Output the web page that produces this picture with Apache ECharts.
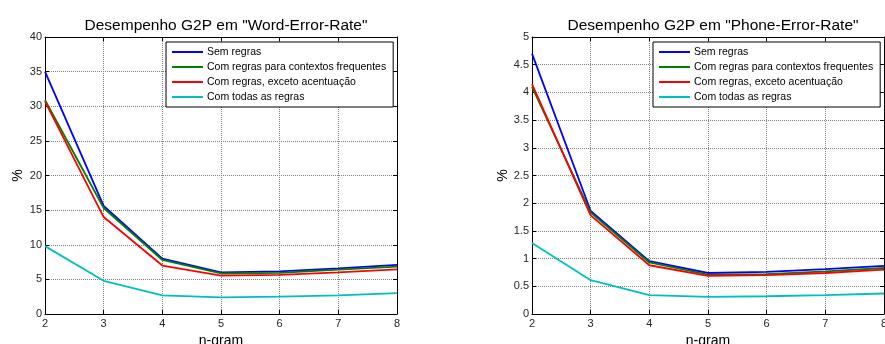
<!DOCTYPE html>
<html>
<head>
<meta charset="utf-8">
<script src="https://cdn.jsdelivr.net/npm/echarts@6/dist/echarts.min.js"></script>
<style>html,body{margin:0;padding:0;background:#fff;}#c{width:885px;height:344px;}</style>
</head>
<body>
<div id="c"></div>
<script>
var nGrams = [2, 3, 4, 5, 6, 7, 8];
var seriesNames = ['Sem regras', 'Com regras para contextos frequentes', 'Com regras, exceto acentuação', 'Com todas as regras'];
var werSemRegras = [35.0, 15.6, 8.0, 6.0, 6.15, 6.6, 7.1];
var werContextos = [30.9, 15.3, 7.8, 5.85, 5.95, 6.4, 6.85];
var werExceto    = [30.7, 14.0, 7.0, 5.55, 5.65, 6.0, 6.45];
var werTodas     = [9.8, 4.8, 2.7, 2.4, 2.5, 2.7, 3.0];
var perSemRegras = [4.7, 1.86, 0.955, 0.74, 0.76, 0.81, 0.87];
var perContextos = [4.1, 1.83, 0.93, 0.71, 0.72, 0.77, 0.83];
var perExceto    = [4.15, 1.78, 0.88, 0.69, 0.70, 0.74, 0.80];
var perTodas     = [1.28, 0.61, 0.34, 0.31, 0.32, 0.34, 0.37];
var titles = ['Desempenho G2P em "Word-Error-Rate"', 'Desempenho G2P em "Phone-Error-Rate"'];

var colors = ['#0000ff', '#008000', '#ff0000', '#00bfbf'];
var FONT = 'Liberation Sans, Arial, sans-serif';

function pairs(v) { return nGrams.map(function (x, i) { return [x, v[i]]; }); }

var chart = echarts.init(document.getElementById('c'), null, {renderer: 'canvas'});

var grids = [
  {left: 45, right: 488, top: 37, bottom: 30, outerBoundsMode: 'none', containLabel: false},
  {left: 532, right: 1, top: 37, bottom: 30, outerBoundsMode: 'none', containLabel: false}
];
var yMax = [40, 5], yInt = [5, 0.5];

var xAxes = [], yAxes = [];
for (var g = 0; g < 2; g++) {
  xAxes.push({
    type: 'value', gridIndex: g, min: 2, max: 8, interval: 1, position: 'bottom',
    name: 'n-gram', nameLocation: 'middle', nameGap: 20,
    nameTextStyle: {fontFamily: FONT, fontSize: 14, color: '#000'},
    axisLine: {show: true, onZero: false, lineStyle: {color: '#000', width: 1}},
    axisTick: {show: true, inside: true, length: 4, lineStyle: {color: '#000'}},
    axisLabel: {fontFamily: FONT, fontSize: 11, color: '#262626', margin: 4},
    splitLine: {show: true, lineStyle: {color: '#808080', type: 'dotted', width: 1}}
  });
  xAxes.push({
    type: 'value', gridIndex: g, min: 2, max: 8, interval: 1, position: 'top',
    axisLine: {show: true, onZero: false, lineStyle: {color: '#000', width: 1}},
    axisTick: {show: true, inside: true, length: 4, lineStyle: {color: '#000'}},
    axisLabel: {show: false}, splitLine: {show: false}
  });
  yAxes.push({
    type: 'value', gridIndex: g, min: 0, max: yMax[g], interval: yInt[g], position: 'left',
    name: '%', nameLocation: 'middle', nameGap: g === 0 ? 20 : 21,
    nameTextStyle: {fontFamily: FONT, fontSize: 14, color: '#000'},
    axisLine: {show: true, onZero: false, lineStyle: {color: '#000', width: 1}},
    axisTick: {show: true, inside: true, length: 4, lineStyle: {color: '#000'}},
    axisLabel: {fontFamily: FONT, fontSize: 11, color: '#262626', margin: 3},
    splitLine: {show: true, lineStyle: {color: '#808080', type: 'dotted', width: 1}}
  });
  yAxes.push({
    type: 'value', gridIndex: g, min: 0, max: yMax[g], interval: yInt[g], position: 'right',
    axisLine: {show: true, onZero: false, lineStyle: {color: '#000', width: 1}},
    axisTick: {show: true, inside: true, length: 4, lineStyle: {color: '#000'}},
    axisLabel: {show: false}, splitLine: {show: false}
  });
}

var dataSets = [
  [werSemRegras, werContextos, werExceto, werTodas],
  [perSemRegras, perContextos, perExceto, perTodas]
];
var series = [];
for (var g2 = 0; g2 < 2; g2++) {
  for (var s = 0; s < 4; s++) {
    series.push({
      type: 'line', name: seriesNames[s],
      xAxisIndex: g2 * 2, yAxisIndex: g2 * 2,
      data: pairs(dataSets[g2][s]),
      symbol: 'none', smooth: false, animation: false,
      lineStyle: {color: colors[s], width: 1.8},
      itemStyle: {color: colors[s]},
      z: 3
    });
  }
}

function legendAt(left) {
  return {
    orient: 'vertical', left: left, top: 42,
    data: seriesNames, icon: 'rect', itemWidth: 31, itemHeight: 2, itemGap: 3,
    padding: [4, 7, 4, 6],
    backgroundColor: '#fff', borderColor: '#000', borderWidth: 1,
    selectedMode: false,
    textStyle: {fontFamily: FONT, fontSize: 10.5, color: '#000', lineHeight: 12, padding: [0, 0, 0, -1]}
  };
}

chart.setOption({
  backgroundColor: '#fff',
  color: colors,
  animation: false,
  title: [
    {text: titles[0], left: 221, top: 13, textAlign: 'center',
     textStyle: {fontFamily: FONT, fontSize: 15.5, fontWeight: 'normal', color: '#000'}},
    {text: titles[1], left: 708, top: 13, textAlign: 'center',
     textStyle: {fontFamily: FONT, fontSize: 15.5, fontWeight: 'normal', color: '#000'}}
  ],
  legend: [legendAt(166), legendAt(653)],
  grid: grids,
  xAxis: xAxes,
  yAxis: yAxes,
  series: series
});
</script>
</body>
</html>
